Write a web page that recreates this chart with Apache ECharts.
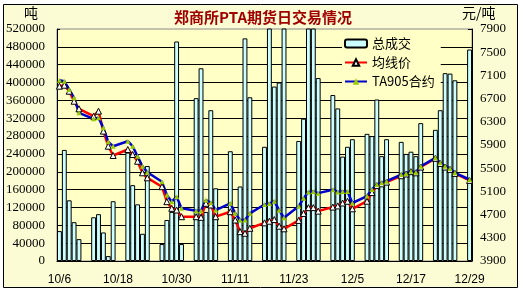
<!DOCTYPE html>
<html>
<head>
<meta charset="utf-8">
<script src="https://cdn.jsdelivr.net/npm/echarts@6/dist/echarts.min.js"></script>
<style>
html,body{margin:0;padding:0;background:#ffffff;}
#c{width:523px;height:294px;}
</style>
</head>
<body>
<div id="c"></div>
<script>
// calendar days on the date axis (10/6 .. 12/29)
const categories = [
'10/6','10/7','10/8','10/9','10/10','10/11','10/12','10/13','10/14','10/15','10/16','10/17','10/18','10/19','10/20','10/21','10/22','10/23','10/24','10/25','10/26','10/27','10/28','10/29','10/30','10/31',
'11/1','11/2','11/3','11/4','11/5','11/6','11/7','11/8','11/9','11/10','11/11','11/12','11/13','11/14','11/15','11/16','11/17','11/18','11/19','11/20','11/21','11/22','11/23','11/24','11/25','11/26','11/27','11/28','11/29','11/30',
'12/1','12/2','12/3','12/4','12/5','12/6','12/7','12/8','12/9','12/10','12/11','12/12','12/13','12/14','12/15','12/16','12/17','12/18','12/19','12/20','12/21','12/22','12/23','12/24','12/25','12/26','12/27','12/28','12/29'
];
// 总成交 (lots), weekends empty
const volume = [
67000,249000,136000,87000,49000,null,null,
98000,105000,64000,11000,134000,null,null,
243000,170000,127000,61000,213000,null,null,
38000,92000,110000,492000,38000,null,null,
365000,432000,110000,338000,163000,null,null,
246000,92000,167000,499000,367000,null,null,
256000,580000,391000,400000,580000,null,null,
269000,319000,580000,580000,410000,null,null,
372000,342000,234000,256000,273000,null,null,
285000,280000,362000,235000,273000,null,null,
267000,240000,245000,235000,309000,null,null,
294000,338000,421000,420000,405000,null,null,
474000
];
// 均线价 (yuan/ton)
const avgPrice = [
6914,6931,6827,6655,6524,null,null,
6397,6483,6139,5879,5719,null,null,
5822,5736,5620,5421,5334,null,null,
5181,4923,4808,4779,4664,null,null,
4664,4653,4895,4866,4664,null,null,
4750,4607,4406,4378,4464,null,null,
4558,4586,4614,4500,4455,null,null,
4600,4720,4820,4820,4760,null,null,
4830,4850,4900,4930,4800,null,null,
4931,5080,5200,5230,5260,null,null,
5370,5400,5440,5420,5520,null,null,
5670,5580,5520,5480,5410,null,null,
5290
];
// TA905合约 (yuan/ton)
const ta905 = [
7017,7000,6857,6713,6455,null,null,
6352,6369,6196,5955,5879,null,null,
5965,5879,5707,5534,5431,null,null,
5265,5038,4923,5009,4808,null,null,
4768,4768,4952,4906,4779,null,null,
4895,4722,4607,4607,4722,null,null,
4874,4891,4931,4776,4645,null,null,
4845,4980,5090,5100,5070,null,null,
5130,5090,5100,5100,4900,null,null,
5020,5133,5219,5248,5276,null,null,
5391,5409,5448,5431,5534,null,null,
5679,5592,5534,5495,5421,null,null,
5305
];
const seriesNames = ['总成交','均线价','TA905合约'];
const titleText = '郑商所PTA期货日交易情况';

const outerBg = '#FCFCD4';
const plotBg = '#FFFFC6';

const chart = echarts.init(document.getElementById('c'), null, {renderer:'canvas'});
chart.setOption({
  backgroundColor: '#ffffff',
  animation: false,
  title: {
    text: titleText, left: 258, top: 5, textAlign: 'center',
    textStyle: {color: '#A00000', fontSize: 15, fontWeight: 'bold', fontFamily: 'Noto Sans CJK SC'}
  },
  graphic: [
    {type: 'rect', z: -100, shape: {x: 3.5, y: 4.5, width: 514, height: 283},
     style: {fill: outerBg, stroke: '#000', lineWidth: 1}},
    {type: 'text', left: 24, top: 6, style: {text: '吨', fill: '#000', font: '14px "Noto Sans CJK SC"'}},
    {type: 'text', left: 462, top: 6, style: {text: '元/吨', fill: '#000', font: '14px "Noto Sans CJK SC"'}}
  ],
  legend: {
    data: seriesNames, orient: 'vertical', left: 342, top: 35,
    itemWidth: 22, itemHeight: 8, itemGap: 6,
    backgroundColor: plotBg, padding: [2, 6, 2, 2],
    textStyle: {color: '#000', fontSize: 13, fontFamily: 'Noto Sans CJK SC'}
  },
  grid: {left: 57, right: 51, top: 29, bottom: 33, show: true, backgroundColor: plotBg, borderColor: '#888', borderWidth: 1},
  xAxis: {
    type: 'category', data: categories, boundaryGap: true,
    axisLine: {lineStyle: {color: '#000', width: 1}},
    axisTick: {show: false},
    axisLabel: {interval: 11, color: '#000', fontSize: 12, fontFamily: 'Liberation Sans', margin: 13}
  },
  yAxis: [
    {type: 'value', min: 0, max: 520000, interval: 40000,
     axisLine: {show: true, lineStyle: {color: '#000'}},
     axisTick: {show: true, inside: true, length: 3, lineStyle: {color: '#000'}},
     axisLabel: {color: '#000', fontSize: 13, fontFamily: 'Liberation Serif', margin: 12, formatter: v => String(v)},
     splitLine: {show: true, showMaxLine: false, lineStyle: {color: '#000', width: 1}}},
    {type: 'value', min: 3900, max: 7900, interval: 400, alignTicks: false,
     axisLine: {show: true, lineStyle: {color: '#000'}},
     axisTick: {show: true, inside: true, length: 4, lineStyle: {color: '#000'}},
     axisLabel: {color: '#000', fontSize: 13, fontFamily: 'Liberation Serif', margin: 8, formatter: v => String(v)},
     splitLine: {show: false}}
  ],
  series: [
    {name: seriesNames[0], type: 'bar', data: volume, yAxisIndex: 0, barWidth: '100%', barGap: '0%', clip: true,
     itemStyle: {color: '#CCFFFF', borderColor: '#000', borderWidth: 1}},
    {name: seriesNames[1], type: 'line', data: avgPrice, yAxisIndex: 1, connectNulls: true,
     symbol: 'triangle', symbolSize: 6, showAllSymbol: true,
     lineStyle: {color: '#FF0000', width: 2.5},
     itemStyle: {color: '#FFFFFF', borderColor: '#000', borderWidth: 1}},
    {name: seriesNames[2], type: 'line', data: ta905, yAxisIndex: 1, connectNulls: true,
     symbol: 'triangle', symbolSize: 5, showAllSymbol: true,
     lineStyle: {color: '#0000CC', width: 2.5},
     itemStyle: {color: '#99CC00', borderWidth: 0}}
  ]
});
</script>
</body>
</html>
